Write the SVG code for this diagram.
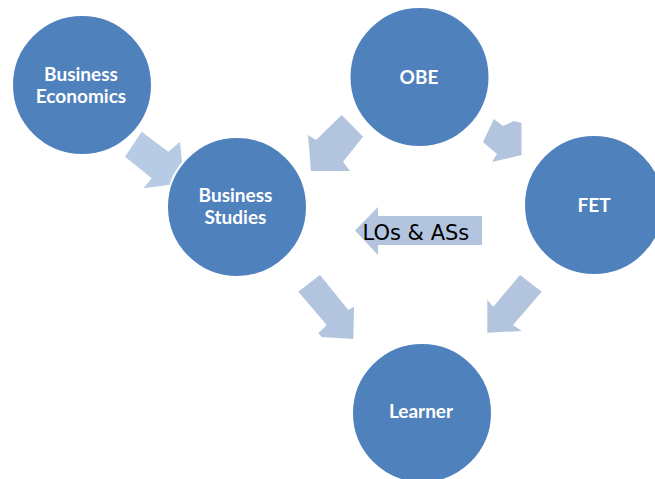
<svg xmlns="http://www.w3.org/2000/svg" width="655" height="479" viewBox="0 0 655 479">
  <style>
    .node { fill: #4f81bd; stroke: #ffffff; stroke-width: 2; }
    .label { fill: #ffffff; font-family: Lato, "Open Sans", "Liberation Sans", sans-serif; font-weight: bold; font-size: 19px; text-anchor: middle; }
    .arrow { fill: #b3c4df; stroke: none; }
    .arrow-light { fill: #b8cbe4; stroke: none; }
    .arrow-label { fill: #000000; font-family: "DejaVu Sans", "Liberation Sans", sans-serif; font-size: 21px; }
  </style>
  <rect width="655" height="479" fill="#ffffff"/>

  <!-- block arrows, drawn beneath the circles -->
  <g id="connectors">
    <!-- Business Economics -> Business Studies -->
    <polygon class="arrow-light" points="141.7,131.7 168.3,151.7 180,141.7 184,183 143.3,188.3 151.7,178.3 125,156.7"/>
    <!-- OBE -> Business Studies -->
    <polygon class="arrow" points="341.7,115 363,136.7 343,161.7 350,171 311,171 308,135 316,140"/>
    <!-- OBE -> FET -->
    <polygon class="arrow" points="494,119 503,126 514,121 521.5,123 521.5,155 492,162 497,154 483,142"/>
    <!-- FET -> Business Studies (LOs & ASs) -->
    <polygon class="arrow" points="482,216 482,245 378,245 378,255 355,230.5 378,207 378,216"/>
    <!-- Business Studies -> Learner -->
    <polygon class="arrow" points="320,275 298.3,291.7 326.7,325 318.3,333.3 321.7,337 353.3,339 354,306.7 348.3,310"/>
    <!-- FET -> Learner -->
    <polygon class="arrow" points="520,275 541.7,291.7 513,325 521.7,331 487.3,332.7 487.3,300 493.3,306.7"/>
    <text class="arrow-label" x="362.5" y="240">LOs &amp; ASs</text>
  </g>

  <g id="business-economics">
    <circle class="node" cx="82" cy="85" r="70"/>
    <text class="label" x="81" y="80.5">Business</text>
    <text class="label" x="81" y="102.5">Economics</text>
  </g>

  <g id="business-studies">
    <circle class="node" cx="237" cy="207" r="70"/>
    <text class="label" x="235.5" y="201.5">Business</text>
    <text class="label" x="235.5" y="224">Studies</text>
  </g>

  <g id="obe">
    <circle class="node" cx="419.5" cy="77" r="70"/>
    <text class="label" x="419" y="84">OBE</text>
  </g>

  <g id="fet">
    <circle class="node" cx="594" cy="205" r="70"/>
    <text class="label" x="594" y="211.5">FET</text>
  </g>

  <g id="learner">
    <circle class="node" cx="422" cy="413" r="70"/>
    <text class="label" x="421" y="418">Learner</text>
  </g>
</svg>
